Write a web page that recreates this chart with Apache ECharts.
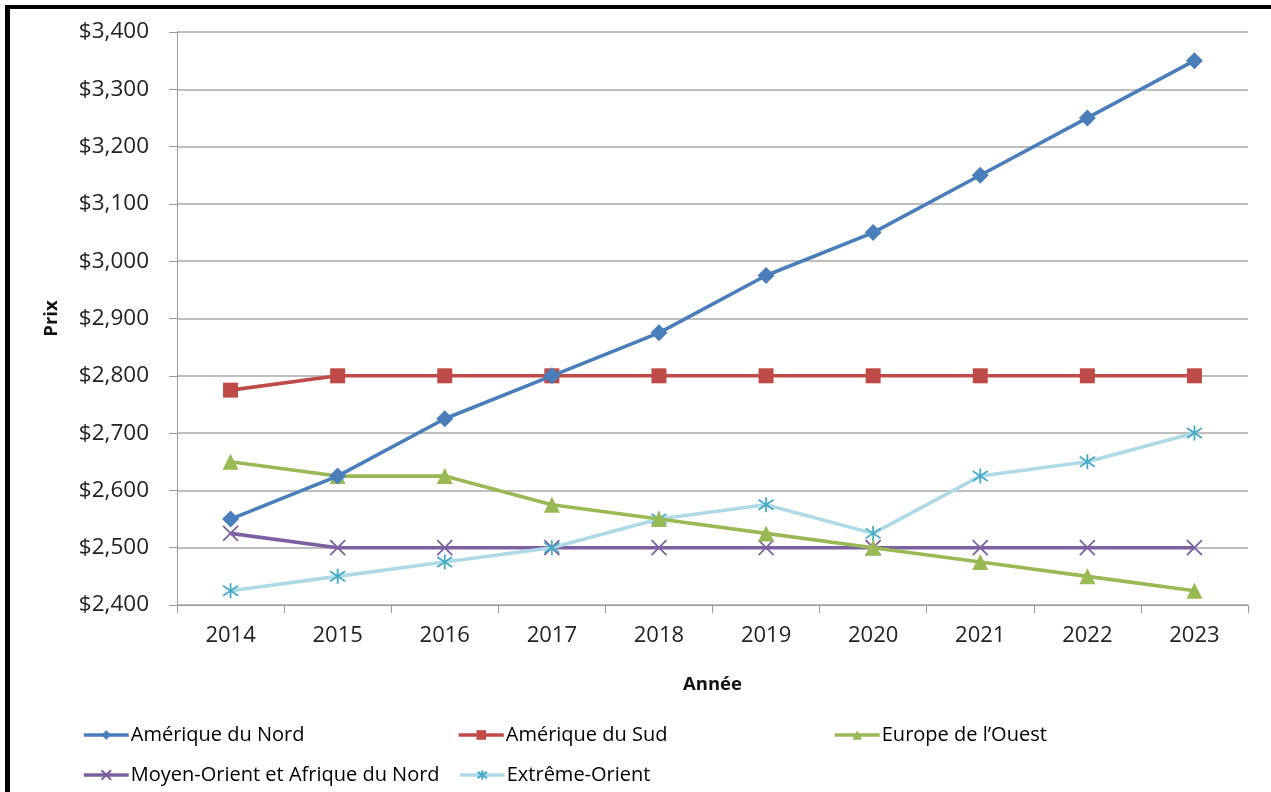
<!DOCTYPE html>
<html>
<head>
<meta charset="utf-8">
<script src="https://cdn.jsdelivr.net/npm/echarts@6/dist/echarts.min.js"></script>
<style>
html,body{margin:0;padding:0;background:#fff;}
#c{width:1271px;height:792px;}
</style>
</head>
<body>
<div id="c"></div>
<script>
const years = ['2014','2015','2016','2017','2018','2019','2020','2021','2022','2023'];
const ameriqueNord = [2550, 2625, 2725, 2800, 2875, 2975, 3050, 3150, 3250, 3350];
const ameriqueSud = [2775, 2800, 2800, 2800, 2800, 2800, 2800, 2800, 2800, 2800];
const europeOuest = [2650, 2625, 2625, 2575, 2550, 2525, 2500, 2475, 2450, 2425];
const moyenOrient = [2525, 2500, 2500, 2500, 2500, 2500, 2500, 2500, 2500, 2500];
const extremeOrient = [2425, 2450, 2475, 2500, 2550, 2575, 2525, 2625, 2650, 2700];
const names = ['Amérique du Nord','Amérique du Sud','Europe de l\u2019Ouest','Moyen-Orient et Afrique du Nord','Extrême-Orient'];

const FONT = 'Open Sans';
const chart = echarts.init(document.getElementById('c'));
const xPath = 'path://M0,0L10,10M10,0L0,10';
const starPath = 'path://M0,1L10,9M10,1L0,9M5,-1L5,11';

function legendAt(name, left, top){
  return {
    data:[name], left:left, top:top, itemWidth:45, itemHeight:12, itemGap:0,
    lineStyle:{width:3.5},
    textStyle:{fontFamily:FONT, fontSize:20, color:'#000', padding:[0,0,0,-3]},
    padding:0
  };
}

chart.setOption({
  animation:false,
  backgroundColor:'#fff',
  textStyle:{fontFamily:FONT},
  graphic:[
    {type:'rect', shape:{x:5,y:5,width:1266,height:4}, style:{fill:'#000'}},
    {type:'rect', shape:{x:5,y:5,width:5,height:787}, style:{fill:'#000'}}
  ],
  legend:[
    legendAt(names[0], 82, 725),
    legendAt(names[1], 457, 725),
    legendAt(names[2], 833, 725),
    legendAt(names[3], 82, 765),
    legendAt(names[4], 458, 765)
  ],
  grid:{left:177, right:23, top:32, bottom:187, containLabel:false},
  xAxis:{
    type:'category', data:years, boundaryGap:true,
    name:'Année', nameLocation:'middle', nameGap:70,
    nameTextStyle:{fontFamily:FONT, fontSize:18.5, fontWeight:'bold', color:'#111'},
    axisLine:{lineStyle:{color:'#9a9a9a', width:1}},
    axisTick:{show:true, alignWithLabel:false, length:8, inside:false, lineStyle:{color:'#9a9a9a'}},
    axisLabel:{fontFamily:FONT, fontSize:22, color:'#222', margin:20},
    splitLine:{show:false}
  },
  yAxis:{
    type:'value', min:2400, max:3400, interval:100,
    name:'Prix', nameLocation:'middle', nameGap:116, nameRotate:90,
    nameTextStyle:{fontFamily:FONT, fontSize:18.5, fontWeight:'bold', color:'#111'},
    axisLine:{show:true, lineStyle:{color:'#9a9a9a', width:1}},
    axisTick:{show:true, length:8, lineStyle:{color:'#9a9a9a'}},
    axisLabel:{fontFamily:FONT, fontSize:22.5, color:'#222', margin:28,
      formatter:v=>'$'+v.toLocaleString('en-US')},
    splitLine:{show:true, lineStyle:{color:'#a8a8a8', width:1.5}}
  },
  series:[
    {name:names[0], type:'line', data:ameriqueNord, symbol:'diamond', symbolSize:17,
      lineStyle:{color:'#4A7EBB', width:3.6}, itemStyle:{color:'#4A7EBB'}, z:5},
    {name:names[1], type:'line', data:ameriqueSud, symbol:'rect', symbolSize:15,
      lineStyle:{color:'#BE4B48', width:3.6}, itemStyle:{color:'#BE4B48'}, z:4},
    {name:names[2], type:'line', data:europeOuest, symbol:'triangle', symbolSize:16,
      lineStyle:{color:'#98B954', width:3.6}, itemStyle:{color:'#98B954'}, z:4},
    {name:names[3], type:'line', data:moyenOrient, symbol:xPath, symbolSize:15,
      lineStyle:{color:'#7D60A0', width:3.6}, itemStyle:{color:'rgba(0,0,0,0)', borderColor:'#7D60A0', borderWidth:1.8}, z:3},
    {name:names[4], type:'line', data:extremeOrient, symbol:starPath, symbolSize:15,
      lineStyle:{color:'#ADDAE6', width:3.6}, itemStyle:{color:'rgba(0,0,0,0)', borderColor:'#46AAC5', borderWidth:1.8}, z:3}
  ]
});
</script>
</body>
</html>
